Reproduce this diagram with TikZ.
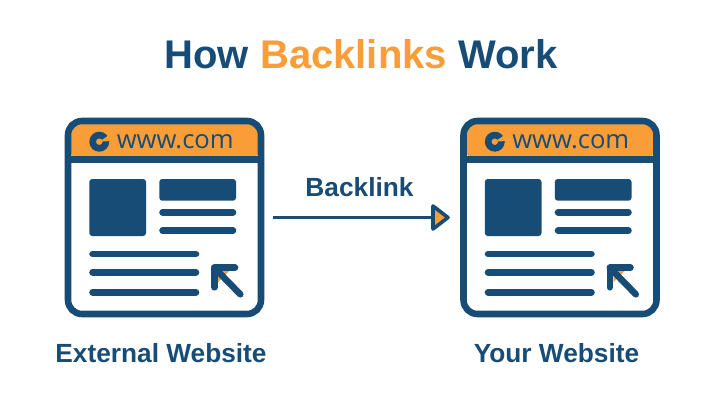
\documentclass[tikz,border=0pt]{standalone}
\usepackage{fontspec}
\setmainfont{Liberation Sans}
\newfontfamily\urlfont{Open Sans}
\definecolor{navy}{HTML}{174C77}
\definecolor{amber}{HTML}{F99D38}
\tikzset{
  x=0.75pt,y=-0.75pt,
  heavy/.style={draw=navy,line width=4.9pt,line cap=round,line join=round},
  block/.style={fill=navy,rounded corners=2.2pt},
  frame/.style={draw=navy,line width=4.9pt,rounded corners=10.5pt,minimum width=144.75pt,minimum height=144.75pt,inner sep=0pt,outer sep=2.45pt},
  title/.style={text=navy,font=\bfseries\fontsize{30}{36}\selectfont,anchor=base,inner sep=0pt},
  caption/.style={text=navy,font=\bfseries\fontsize{19.7}{23}\selectfont,anchor=base,inner sep=0pt},
  urltext/.style={text=navy,font=\urlfont\fontsize{19.2}{23}\selectfont,anchor=base west,inner sep=0pt},
  link/.style={draw=navy,line width=2.5pt,shorten <=6.5pt,shorten >=10pt},
  linkhead/.style={draw=navy,fill=amber,line width=2.7pt,line join=round}
}
\newcommand{\webwindow}[2]{%
  \begin{scope}[shift={(#1,0)}]
    \path[fill=white,rounded corners=10.5pt] (68,121) rectangle (261,314);
    \path[fill=amber,rounded corners=10.5pt] (68,159.5) -- (68,121) -- (261,121) -- (261,159.5) -- cycle;
    \draw[navy,line width=4.9pt] (68,159.5) -- (261,159.5);
    \node[frame] (#2) at (164.5,217.5) {};
    % logo
    \fill[navy] (99.3,141.7) circle[radius=10];
    \fill[amber] (99.3,141.7) circle[radius=3.2];
    \fill[amber] (99.3,141.7) -- (110.5,134) -- (110.5,141) -- cycle;
    \node[urltext] (#2url) at (116.5,148) {www.com};
    % content blocks
    \fill[block] (89.3,179) rectangle (146,236);
    \fill[block] (159.3,179) rectangle (236,200.7);
    \draw[heavy] (162.5,212.3) -- (233,212.3);
    \draw[heavy] (162.5,230.7) -- (233,230.7);
    \draw[heavy] (92.5,254) -- (196,254);
    \draw[heavy] (92.5,272.3) -- (196,272.3);
    \draw[heavy] (92.5,292.3) -- (196,292.3);
    % cursor
    \fill[amber] (218,271) -- (229,271) -- (218,282) -- cycle;
    \draw[heavy] (235,267.7) -- (214.3,267.7) -- (214.3,287.3);
    \draw[heavy] (214.3,267.7) -- (240.3,294.3);
  \end{scope}}
\begin{document}
\begin{tikzpicture}
  \useasboundingbox[fill=white] (0,0) rectangle (712,414);
  \node[title] (head) at (361,68) {How \textcolor{amber}{Backlinks} Work};
  \webwindow{0}{ext}
  \webwindow{395.5}{own}
  \node[caption] (extcap) at (161,362) {External Website};
  \node[caption] (owncap) at (556.5,362) {Your Website};
  \node[caption] (linkcap) at (359.5,196) {Backlink};
  \coordinate (tip) at (448,217.5);
  \draw[link] (ext.east) -- (tip);
  \draw[linkhead] (tip) -- ++(-15,-11.5) -- ++(0,23) -- cycle;
\end{tikzpicture}
\end{document}
